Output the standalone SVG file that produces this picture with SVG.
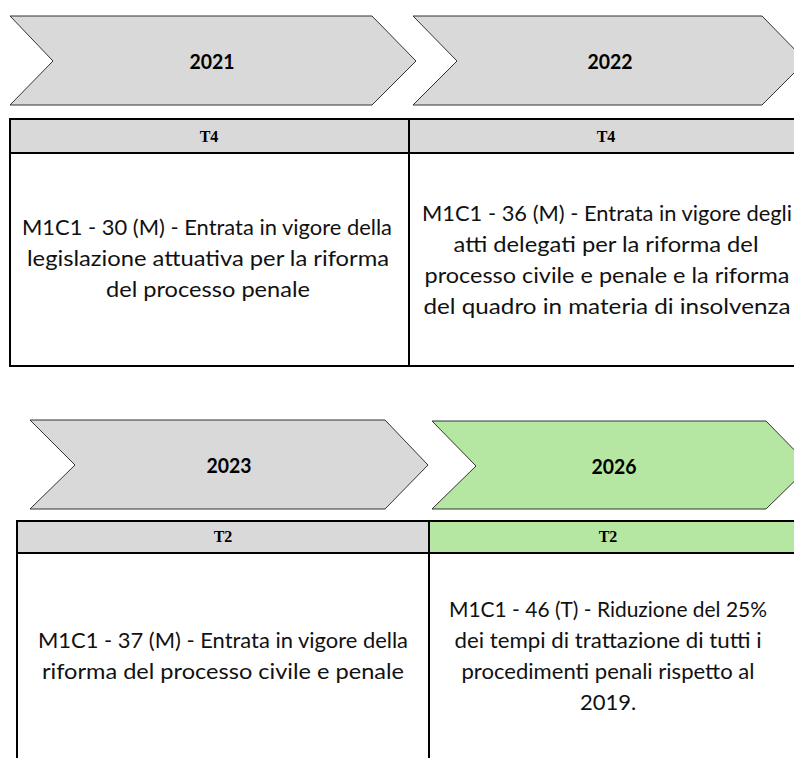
<svg xmlns="http://www.w3.org/2000/svg" width="794" height="758" viewBox="0 0 794 758">
<style>
.chev{fill:#d9d9d9;stroke:#333;stroke-width:1}
.chev.green{fill:#b5e6a2}
.hdr{fill:#d9d9d9}
.hdr.green{fill:#b5e6a2}
.ln{stroke:#000;stroke-width:2;fill:none}
.year{font-family:Lato,"Open Sans",sans-serif;font-weight:bold;font-size:21px;text-anchor:middle;fill:#000}
.q{font-family:"Liberation Serif","Times New Roman",serif;font-weight:bold;font-size:16px;text-anchor:middle;fill:#000}
.body{font-family:Lato,"Open Sans",sans-serif;font-weight:normal;font-size:22px;text-anchor:middle;fill:#111}
</style>
<rect width="794" height="758" fill="#fff"/>
<g id="chevron-2021">
<polygon class="chev" points="10,16 372,16 416,61 372,105 10,105 53,61"/>
<text class="year" x="212" y="69" textLength="45" lengthAdjust="spacingAndGlyphs">2021</text>
</g>
<g id="chevron-2022">
<polygon class="chev" points="413,16 762,16 806,61 762,105 413,105 457,61"/>
<text class="year" x="610" y="69" textLength="45" lengthAdjust="spacingAndGlyphs">2022</text>
</g>
<g id="chevron-2023">
<polygon class="chev" points="30,420 385,420 428,465 385,509 30,509 75,465"/>
<text class="year" x="229" y="473" textLength="45" lengthAdjust="spacingAndGlyphs">2023</text>
</g>
<g id="chevron-2026">
<polygon class="chev green" points="432,421 766,421 810,466 766,509 432,509 476,466"/>
<text class="year" x="614" y="474" textLength="45" lengthAdjust="spacingAndGlyphs">2026</text>
</g>
<g id="table-top">
<rect class="hdr" x="10" y="119" width="790" height="34"/>
<path class="ln" d="M10,119 H800 M10,153 H800 M10,366 H800 M10,118 V367 M409,118 V367"/>
</g>
<g id="cell-2021">
<text class="q" x="209" y="142">T4</text>
<text class="body" x="207" y="235" textLength="370" lengthAdjust="spacingAndGlyphs">M1C1 - 30 (M) - Entrata in vigore della</text>
<text class="body" x="208" y="266" textLength="362" lengthAdjust="spacingAndGlyphs">legislazione attuativa per la riforma</text>
<text class="body" x="208" y="297" textLength="204" lengthAdjust="spacingAndGlyphs">del processo penale</text>
</g>
<g id="cell-2022">
<text class="q" x="606" y="142">T4</text>
<text class="body" x="607" y="221" textLength="370" lengthAdjust="spacingAndGlyphs">M1C1 - 36 (M) - Entrata in vigore degli</text>
<text class="body" x="606" y="252" textLength="305" lengthAdjust="spacingAndGlyphs">atti delegati per la riforma del</text>
<text class="body" x="607" y="283" textLength="365" lengthAdjust="spacingAndGlyphs">processo civile e penale e la riforma</text>
<text class="body" x="607" y="314" textLength="367" lengthAdjust="spacingAndGlyphs">del quadro in materia di insolvenza</text>
</g>
<g id="table-bottom">
<rect class="hdr" x="17" y="521" width="412" height="32"/>
<rect class="hdr green" x="429" y="521" width="371" height="32"/>
<path class="ln" d="M17,521 H800 M17,553 H800 M17,520 V760 M429,520 V760"/>
</g>
<g id="cell-2023">
<text class="q" x="223" y="542">T2</text>
<text class="body" x="223" y="648" textLength="370" lengthAdjust="spacingAndGlyphs">M1C1 - 37 (M) - Entrata in vigore della</text>
<text class="body" x="223" y="679" textLength="362" lengthAdjust="spacingAndGlyphs">riforma del processo civile e penale</text>
</g>
<g id="cell-2026">
<text class="q" x="608" y="542">T2</text>
<text class="body" x="608" y="617" textLength="318" lengthAdjust="spacingAndGlyphs">M1C1 - 46 (T) - Riduzione del 25%</text>
<text class="body" x="608" y="648" textLength="307" lengthAdjust="spacingAndGlyphs">dei tempi di trattazione di tutti i</text>
<text class="body" x="608" y="679" textLength="293" lengthAdjust="spacingAndGlyphs">procedimenti penali rispetto al</text>
<text class="body" x="608" y="710">2019.</text>
</g>
<g id="connectors"/>
</svg>
